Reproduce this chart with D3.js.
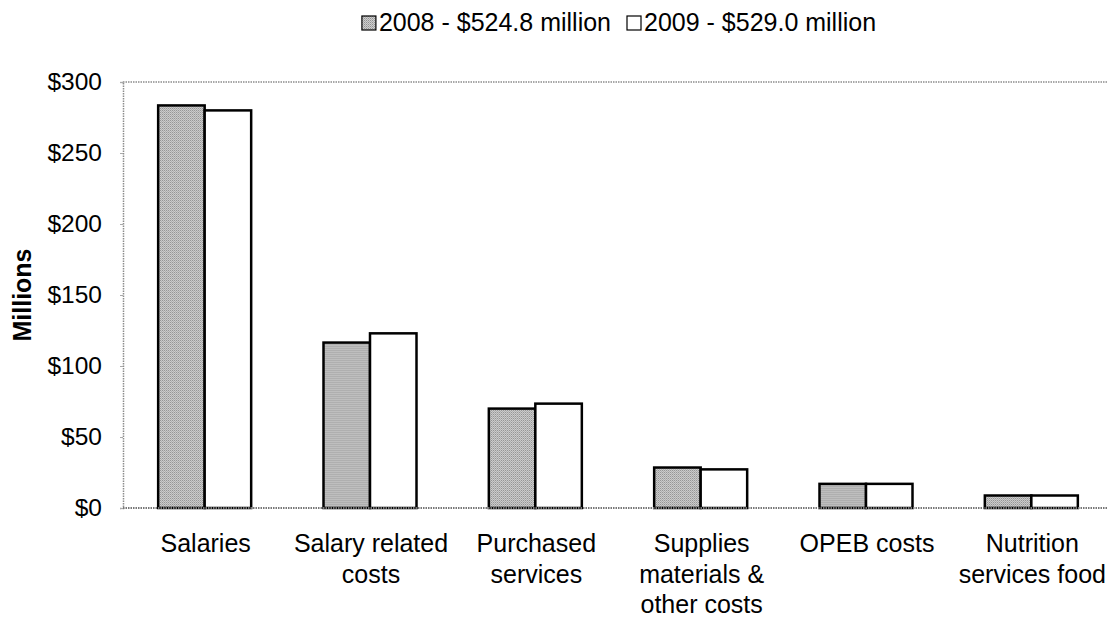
<!DOCTYPE html>
<html>
<head>
<meta charset="utf-8">
<script src="https://cdn.jsdelivr.net/npm/d3@7"></script>
<style>
  body { margin: 0; background: #fff; }
  svg text { font-family: "Liberation Sans", Arial, sans-serif; fill: #000; }
</style>
</head>
<body>
<div id="chart"></div>
<script>
const width = 1108;
const height = 618;

// chart values (millions)
const categories = [
  ['Salaries'],
  ['Salary related', 'costs'],
  ['Purchased', 'services'],
  ['Supplies', 'materials &', 'other costs'],
  ['OPEB costs'],
  ['Nutrition', 'services food']
];
const years = ['2008', '2009'];
const legendLabels = ['2008 - $524.8 million', '2009 - $529.0 million'];
const values2008 = [283.5, 116.5, 70, 28.5, 17, 8.8];
const values2009 = [280, 123, 73.5, 27.2, 17, 8.8];
const yTicks = [0, 50, 100, 150, 200, 250, 300];

const margin = { top: 82, left: 123, bottom: 110 };
const plotRight = 1115; // plot area runs past the picture edge

const svg = d3.select('#chart')
  .append('svg')
  .attr('width', width)
  .attr('height', height);

// dotted grey fill for the 2008 bars
const pat = svg.append('defs').append('pattern')
  .attr('id', 'dots')
  .attr('width', 2)
  .attr('height', 2)
  .attr('patternUnits', 'userSpaceOnUse');
pat.append('rect').attr('width', 2).attr('height', 2).attr('fill', '#d4d4d4');
pat.append('rect').attr('width', 1).attr('height', 1).attr('fill', '#8a8a8a');
pat.append('rect').attr('x', 1).attr('y', 1).attr('width', 1).attr('height', 1).attr('fill', '#a8a8a8');

const fills = ['url(#dots)', '#fff'];

const x = d3.scaleBand()
  .domain(d3.range(categories.length))
  .range([margin.left, plotRight]);

const x1 = d3.scaleBand()
  .domain(years)
  .range([0, 93])
  .paddingInner(0);

const y = d3.scaleLinear()
  .domain([0, 300])
  .range([height - margin.bottom, margin.top]);

// plot frame: dotted grey top and left, bottom baseline
svg.append('line')
  .attr('x1', margin.left).attr('x2', width)
  .attr('y1', y(300)).attr('y2', y(300))
  .attr('stroke', '#8c8c8c').attr('stroke-width', 1.5)
  .attr('stroke-dasharray', '1.5,1');

// y axis
const yAxis = svg.append('g')
  .attr('transform', `translate(${margin.left},0)`)
  .call(d3.axisLeft(y).tickValues(yTicks).tickSize(3).tickPadding(18)
    .tickFormat(d => '$' + d));
yAxis.select('.domain')
  .attr('stroke', '#8c8c8c').attr('stroke-width', 1.5)
  .attr('stroke-dasharray', '1.5,1');
yAxis.selectAll('.tick line').attr('stroke', '#aaa');
yAxis.selectAll('.tick text').style('font-size', '24.5px');

svg.append('text')
  .attr('transform', `translate(31,${(y(0) + y(300)) / 2}) rotate(-90)`)
  .attr('text-anchor', 'middle')
  .style('font-size', '25px')
  .style('font-weight', 'bold')
  .text('Millions');

// bars
const groups = svg.selectAll('.group')
  .data(categories.map((c, i) => [values2008[i], values2009[i]]))
  .enter()
  .append('g')
  .attr('class', 'group')
  .attr('transform', (d, i) => `translate(${x(i) + (x.bandwidth() - 93) / 2 - 1},0)`);

groups.selectAll('rect')
  .data(d => d.map((v, j) => ({ v, j })))
  .enter()
  .append('rect')
  .attr('x', d => x1(years[d.j]))
  .attr('y', d => y(d.v))
  .attr('width', x1.bandwidth())
  .attr('height', d => y(0) - y(d.v))
  .attr('fill', d => fills[d.j])
  .attr('stroke', '#000')
  .attr('stroke-width', 2.5);

// baseline
svg.append('line')
  .attr('x1', margin.left).attr('x2', width)
  .attr('y1', y(0)).attr('y2', y(0))
  .attr('stroke', '#777').attr('stroke-width', 2)
  .attr('stroke-dasharray', '1.5,1');

// category labels
const labels = svg.selectAll('.cat')
  .data(categories)
  .enter()
  .append('text')
  .attr('class', 'cat')
  .attr('text-anchor', 'middle')
  .style('font-size', '25px');
labels.selectAll('tspan')
  .data((d, i) => d.map(t => ({ t, i })))
  .enter()
  .append('tspan')
  .attr('x', d => x(d.i) + x.bandwidth() / 2)
  .attr('y', (d, k) => 552 + k * 30.5)
  .text(d => d.t);

// legend
const legend = svg.append('g');
let lx = 0;
legendLabels.forEach((lab, i) => {
  legend.append('rect')
    .attr('x', lx).attr('y', 16)
    .attr('width', 14).attr('height', 14)
    .attr('fill', fills[i])
    .attr('stroke', '#000').attr('stroke-width', 1.2);
  const t = legend.append('text')
    .attr('x', lx + 17).attr('y', 31)
    .style('font-size', '25px')
    .text(lab);
  lx += 17 + t.node().getComputedTextLength() + 16;
});
const lw = lx - 16;
legend.attr('transform', `translate(${619 - lw / 2},0)`);
</script>
</body>
</html>
